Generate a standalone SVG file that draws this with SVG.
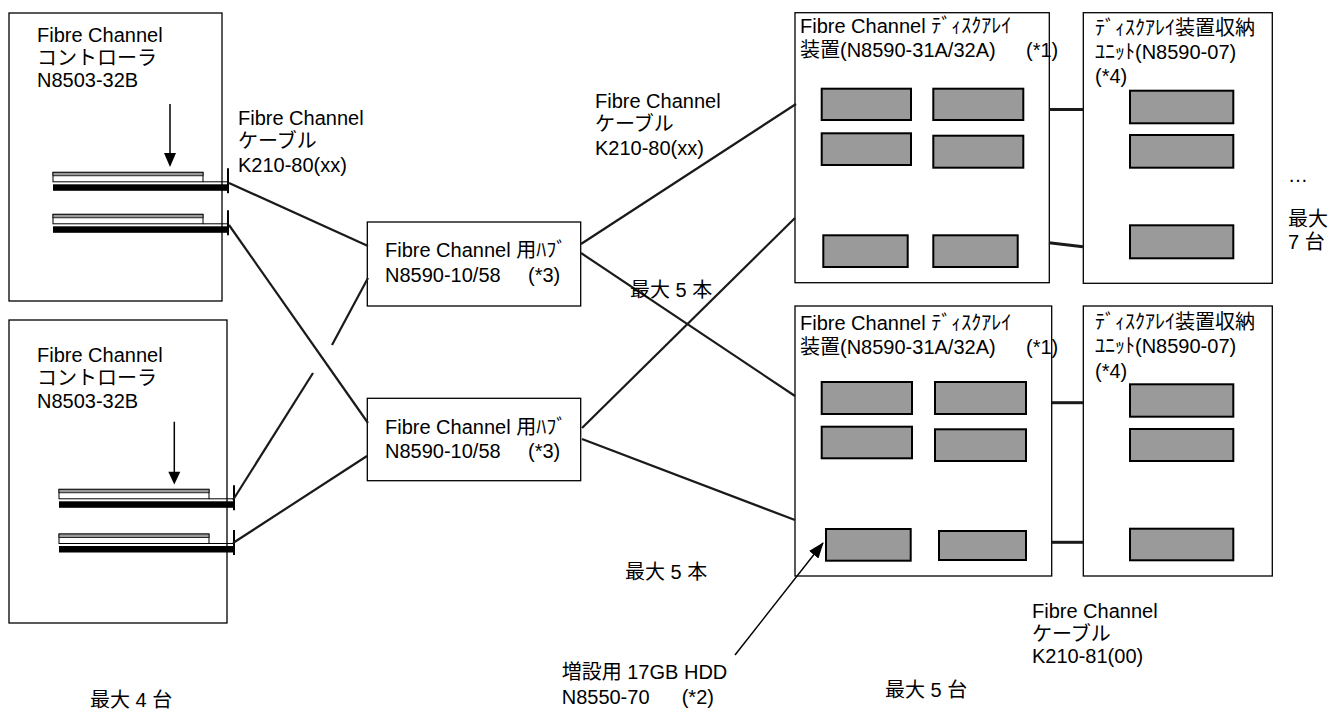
<svg xmlns="http://www.w3.org/2000/svg" xmlns:xlink="http://www.w3.org/1999/xlink" width="1329" height="711" viewBox="0 0 1329 711">
  <style>
    text { font-family: "Liberation Sans", "Noto Sans CJK JP", sans-serif; font-size: 20px; fill: #000; }
    .box { fill: #fff; stroke: #000; stroke-width: 1.3; }
    .hdd { fill: #9a9a9a; stroke: #000; stroke-width: 2; }
    .cable { fill: none; stroke: #1a1a1a; stroke-width: 2.2; }
    .link { fill: none; stroke: #1a1a1a; stroke-width: 3; }
    .pointer { fill: none; stroke: #000; stroke-width: 1.5; }
    .head { fill: #000; }
  </style>
  <defs>
    <!-- controller board: gray edge, white body, black bus bar, bracket tick -->
    <g id="card">
      <rect x="0" y="0" width="150" height="9.5" fill="#fff" stroke="#000" stroke-width="1"/>
      <rect x="0" y="0" width="150" height="3.5" fill="#9a9a9a" stroke="#000" stroke-width="0.8"/>
      <line x1="150" y1="9.5" x2="175" y2="9.5" stroke="#000" stroke-width="1"/>
      <rect x="0" y="12" width="175" height="6.5" fill="#000"/>
      <line x1="175" y1="-4" x2="175" y2="21" stroke="#000" stroke-width="2"/>
    </g>
    <marker id="tip" viewBox="0 0 16 12" refX="15" refY="6" markerWidth="16" markerHeight="12" markerUnits="userSpaceOnUse" orient="auto">
      <path d="M0 0 L16 6 L0 12 Z" fill="#000"/>
    </marker>
  </defs>

  <!-- controller 1 -->
  <g id="controller1">
    <rect class="box" x="9" y="13" width="213" height="288"/>
    <text x="37" y="42">Fibre Channel</text>
    <text x="37" y="64.5">コントローラ</text>
    <text x="37" y="87">N8503-32B</text>
    <line x1="170" y1="104" x2="170" y2="155" stroke="#000" stroke-width="1.5"/>
    <path class="head" d="M164 153 L176 153 L170 167 Z"/>
    <use xlink:href="#card" x="53" y="172.3"/>
    <use xlink:href="#card" x="53" y="214.3"/>
  </g>

  <!-- controller 2 -->
  <g id="controller2">
    <rect class="box" x="9" y="320" width="218" height="303"/>
    <text x="37" y="362.3">Fibre Channel</text>
    <text x="37" y="385">コントローラ</text>
    <text x="37" y="407.7">N8503-32B</text>
    <line x1="174.3" y1="421.7" x2="174.3" y2="474" stroke="#000" stroke-width="1.5"/>
    <path class="head" d="M168.3 471.7 L180.3 471.7 L174.3 484.5 Z"/>
    <use xlink:href="#card" x="59" y="489.3"/>
    <use xlink:href="#card" x="59" y="534"/>
  </g>

  <!-- hubs -->
  <g id="hub1">
    <rect class="box" x="367.3" y="222" width="213.4" height="84"/>
    <text x="385" y="257.3">Fibre Channel 用ﾊﾌﾞ</text>
    <text x="385" y="282.3">N8590-10/58</text>
    <text x="528" y="282.3">(*3)</text>
  </g>
  <g id="hub2">
    <rect class="box" x="367.3" y="398.3" width="213.4" height="82.4"/>
    <text x="385" y="434.3">Fibre Channel 用ﾊﾌﾞ</text>
    <text x="385" y="458.3">N8590-10/58</text>
    <text x="528" y="458.3">(*3)</text>
  </g>

  <!-- disk arrays -->
  <g id="array1">
    <rect class="box" x="795" y="12.7" width="254.3" height="270"/>
    <text x="800" y="33">Fibre Channel ﾃﾞｨｽｸｱﾚｲ</text>
    <text x="800" y="57">装置(N8590-31A/32A)</text>
    <text x="1026" y="57">(*1)</text>
    <rect class="hdd" x="821.7" y="88.7" width="89.3" height="31.3"/>
    <rect class="hdd" x="933.3" y="88.7" width="90" height="31.3"/>
    <rect class="hdd" x="821.7" y="133.3" width="89.3" height="31.7"/>
    <rect class="hdd" x="933.3" y="135.7" width="90" height="32"/>
    <rect class="hdd" x="823.3" y="235.3" width="84.4" height="31.7"/>
    <rect class="hdd" x="933.3" y="235.3" width="84.4" height="31.7"/>
  </g>
  <g id="array2">
    <rect class="box" x="795" y="306" width="256.7" height="270"/>
    <text x="800" y="330">Fibre Channel ﾃﾞｨｽｸｱﾚｲ</text>
    <text x="800" y="354">装置(N8590-31A/32A)</text>
    <text x="1026" y="354">(*1)</text>
    <rect class="hdd" x="821.7" y="382" width="90.3" height="32"/>
    <rect class="hdd" x="935" y="382" width="91" height="32"/>
    <rect class="hdd" x="821.7" y="426.7" width="90.3" height="31.6"/>
    <rect class="hdd" x="935" y="429.3" width="91" height="31.7"/>
    <rect class="hdd" x="826" y="529" width="84.7" height="31.7"/>
    <rect class="hdd" x="939" y="531" width="87" height="29"/>
  </g>

  <!-- expansion units -->
  <g id="unit1">
    <rect class="box" x="1083.3" y="12.7" width="189" height="270.6"/>
    <text x="1095" y="35">ﾃﾞｨｽｸｱﾚｲ装置収納</text>
    <text x="1095" y="58.5">ﾕﾆｯﾄ(N8590-07)</text>
    <text x="1095" y="83">(*4)</text>
    <rect class="hdd" x="1130" y="90.7" width="103.3" height="32.6"/>
    <rect class="hdd" x="1130" y="135" width="103.3" height="32.7"/>
    <rect class="hdd" x="1130" y="225.3" width="103.3" height="33"/>
  </g>
  <g id="unit2">
    <rect class="box" x="1083.3" y="306" width="189" height="270"/>
    <text x="1095" y="329">ﾃﾞｨｽｸｱﾚｲ装置収納</text>
    <text x="1095" y="353">ﾕﾆｯﾄ(N8590-07)</text>
    <text x="1095" y="378">(*4)</text>
    <rect class="hdd" x="1130" y="384.3" width="103.3" height="32.4"/>
    <rect class="hdd" x="1130" y="429" width="103.3" height="32"/>
    <rect class="hdd" x="1130" y="528.7" width="103.3" height="31.6"/>
  </g>

  <!-- connectors (drawn last so the drive pointer stays on top of the array box) -->
  <g id="connectors">
    <path class="cable" d="M229 183 L368 246"/>
    <path class="cable" d="M229 225 L368 423"/>
    <path class="cable" d="M233 500 L313 373"/>
    <path class="cable" d="M332 345 L368 278"/>
    <path class="cable" d="M233 543 L367 456"/>
    <path class="cable" d="M581 244 L796 104"/>
    <path class="cable" d="M581 253 L795 396"/>
    <path class="cable" d="M582 428 L795 218"/>
    <path class="cable" d="M582 439 L795 520"/>
    <path class="link" d="M1049 109.5 L1083 109.5"/>
    <path class="link" d="M1049 242.7 L1083 246.7"/>
    <path class="link" d="M1052 402.7 L1083 402.7"/>
    <path class="link" d="M1052 542.3 L1083 542.3"/>
    <path class="pointer" d="M735 655 L823 543" marker-end="url(#tip)"/>
  </g>

  <!-- labels -->
  <g id="labels">
    <text x="238" y="124.5">Fibre Channel</text>
    <text x="238" y="148">ケーブル</text>
    <text x="238" y="171.5">K210-80(xx)</text>

    <text x="595" y="107.5">Fibre Channel</text>
    <text x="595" y="131">ケーブル</text>
    <text x="595" y="154.5">K210-80(xx)</text>

    <text x="630" y="297">最大 5 本</text>
    <text x="625" y="579">最大 5 本</text>

    <text x="1288" y="182">…</text>
    <text x="1288" y="226">最大</text>
    <text x="1288" y="249">7 台</text>

    <text x="1032" y="618">Fibre Channel</text>
    <text x="1032" y="640.5">ケーブル</text>
    <text x="1032" y="663">K210-81(00)</text>

    <text x="561.7" y="679">増設用 17GB HDD</text>
    <text x="561.7" y="703.5">N8550-70</text>
    <text x="681.7" y="703.5">(*2)</text>

    <text x="885" y="697">最大 5 台</text>
    <text x="90" y="707">最大 4 台</text>
  </g>
</svg>
